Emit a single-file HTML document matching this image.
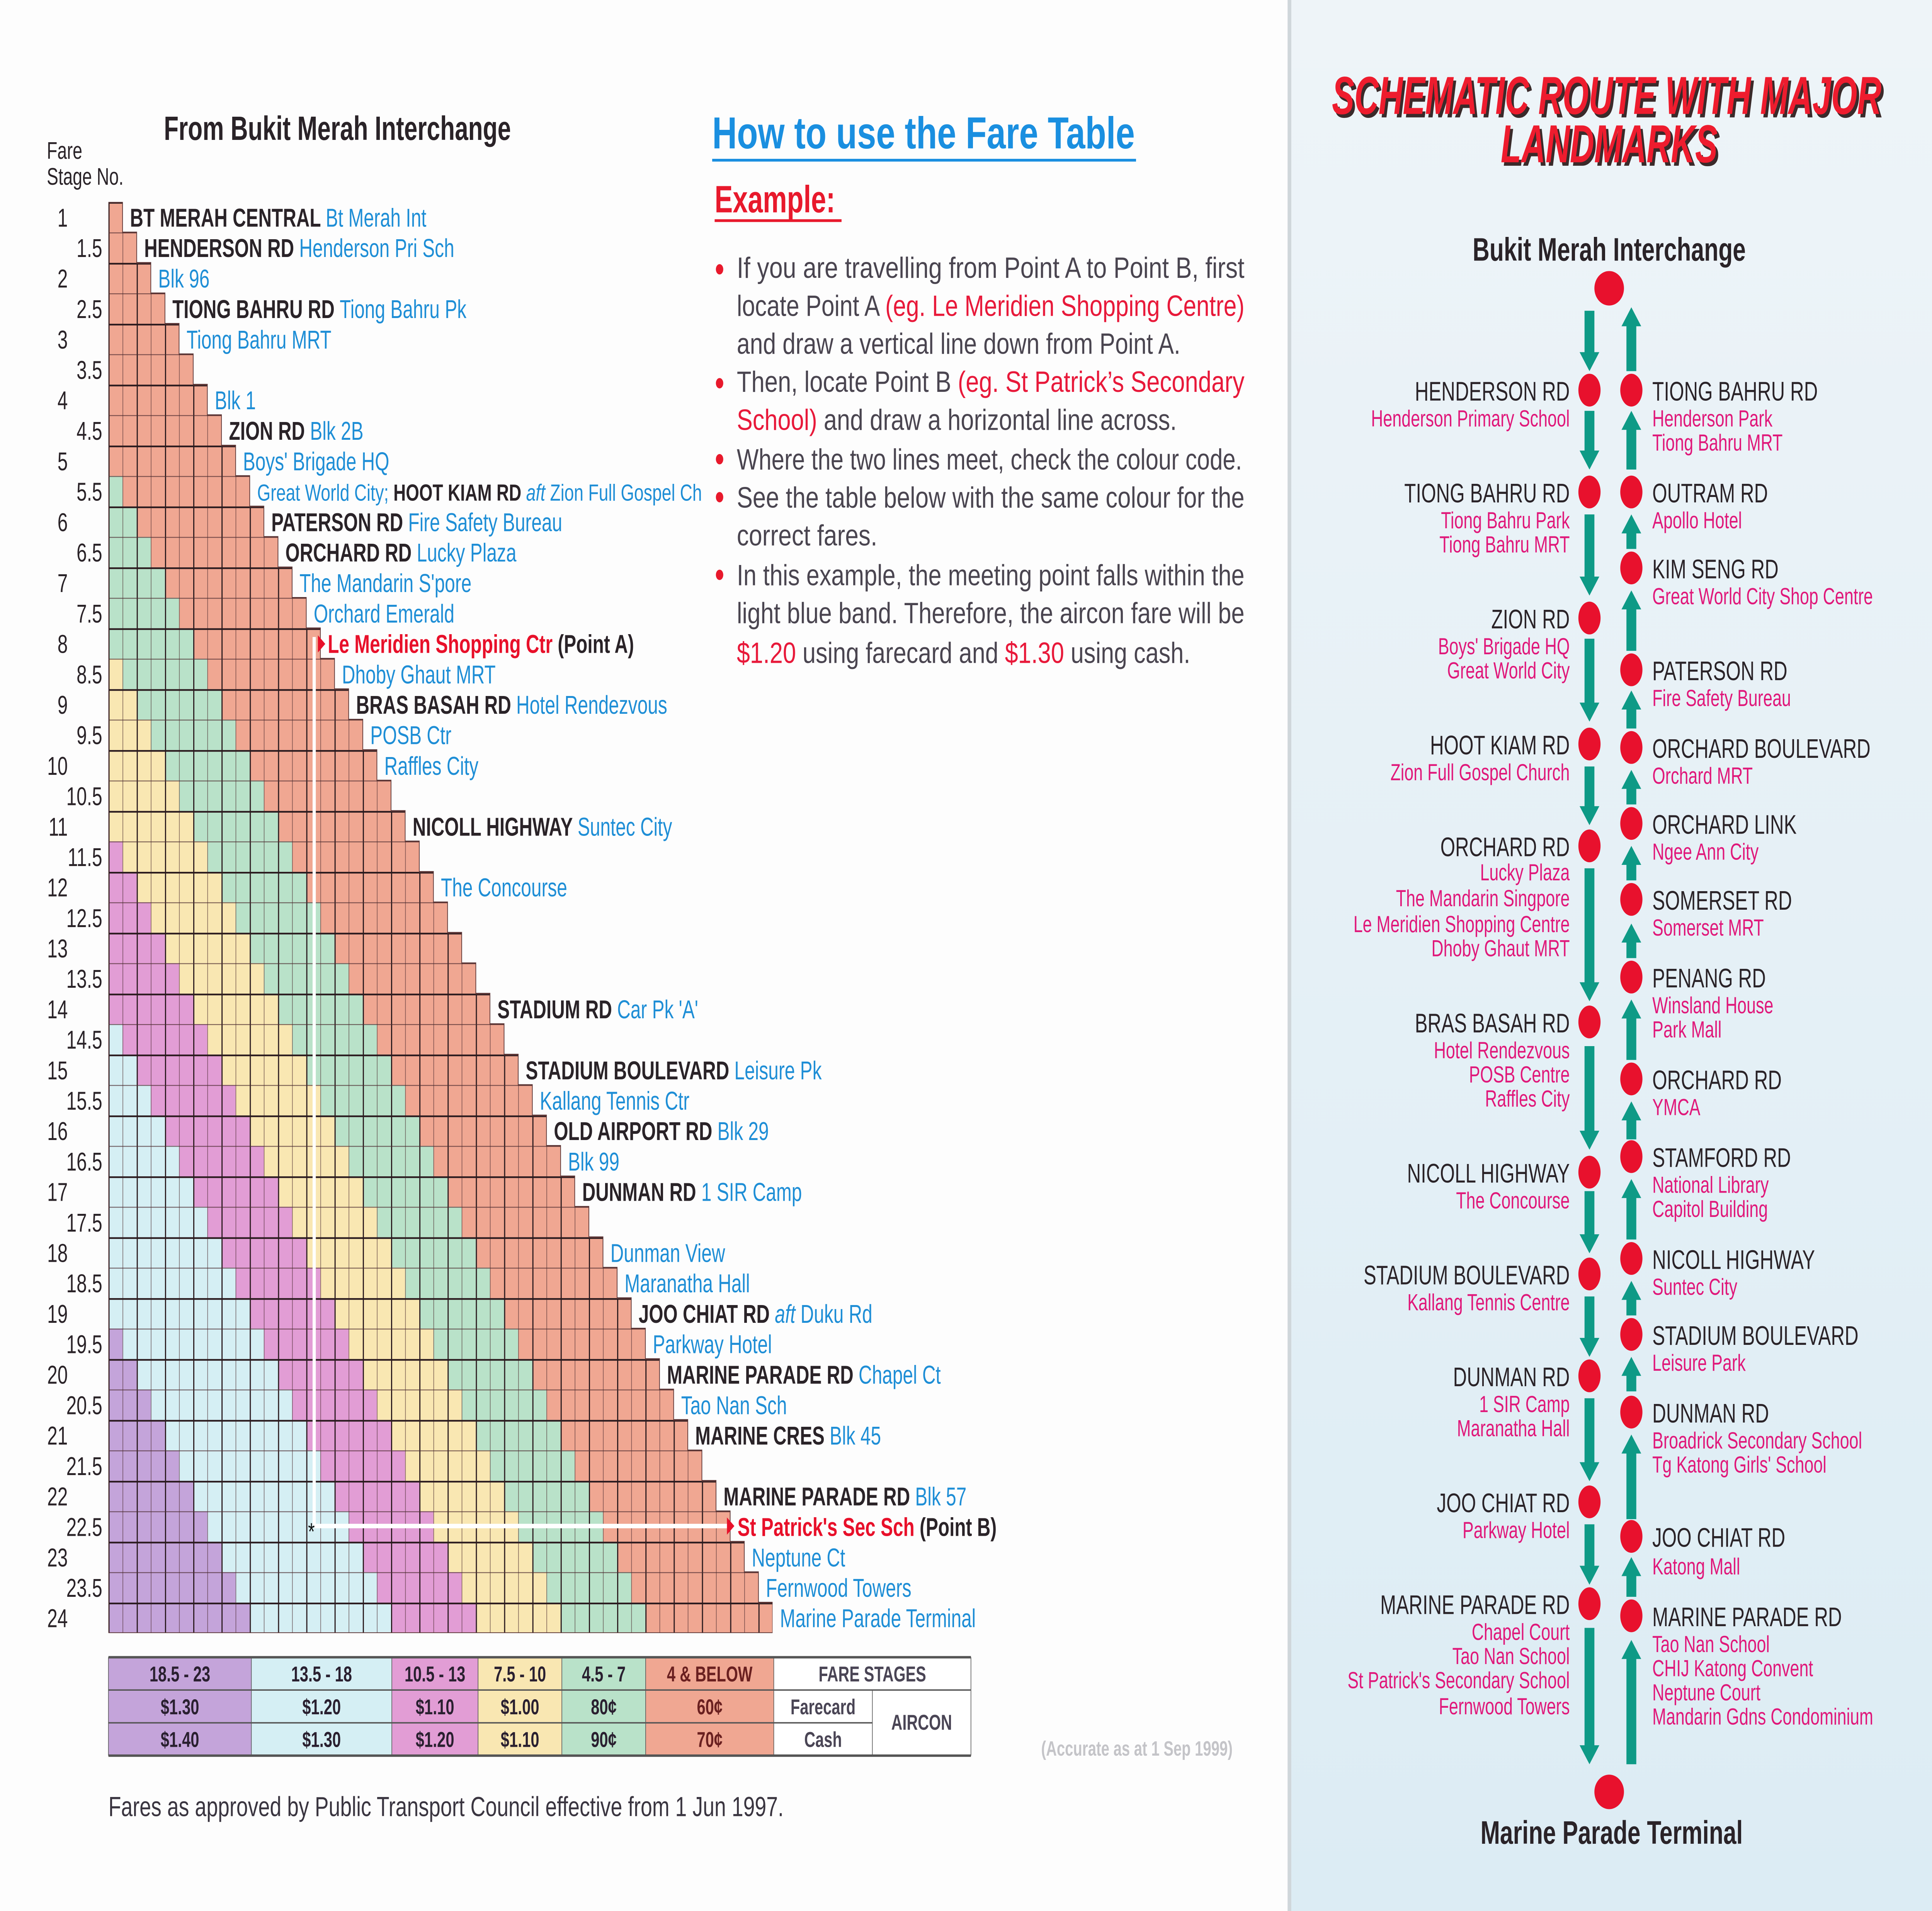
<!DOCTYPE html>
<html><head><meta charset="utf-8">
<style>
html,body{margin:0;padding:0;background:#fff;width:100%;height:100%;overflow:hidden;}
svg.main{display:block;position:fixed;left:0;top:0;width:100vw;height:100vh;}
</style></head>
<body>
<svg class="main" xmlns="http://www.w3.org/2000/svg" viewBox="0 0 1568 1107" preserveAspectRatio="none" font-family="'Liberation Sans', sans-serif">
<defs>
<linearGradient id="bg" x1="0" y1="0" x2="0" y2="1">
<stop offset="0" stop-color="#eef4f8"/><stop offset="1" stop-color="#dcecf4"/>
</linearGradient>
<pattern id="gl" patternUnits="userSpaceOnUse" width="2" height="2">
<rect x="0" y="0" width="0.08" height="2" fill="#2a1a1e"/>
<rect x="1" y="0" width="0.04" height="2" fill="#4a2a2e" fill-opacity="0.75"/>
<rect x="0" y="0" width="2" height="0.055" fill="#2a1a1e"/>
<rect x="0" y="1" width="2" height="0.03" fill="#4a2a2e" fill-opacity="0.7"/>
</pattern>
<path id="stair" d="M0,0 h1v1h1v1h1v1h1v1h1v1h1v1h1v1h1v1h1v1h1v1 h1v1h1v1h1v1h1v1h1v1h1v1h1v1h1v1h1v1h1v1 h1v1h1v1h1v1h1v1h1v1h1v1h1v1h1v1h1v1h1v1 h1v1h1v1h1v1h1v1h1v1h1v1h1v1h1v1h1v1h1v1 h1v1h1v1h1v1h1v1h1v1h1v1 h1V47H0Z"/>
</defs>
<rect x="0" y="0" width="1568" height="1107" fill="#fdfdfd"/>
<rect x="1048" y="0" width="520" height="1107" fill="url(#bg)"/>
<rect x="1045" y="0" width="3" height="1107" fill="#cfd6da"/>

<text x="133" y="81" font-size="19.5" font-weight="bold" fill="#2a2328">From Bukit Merah Interchange</text>
<text x="38" y="92" font-size="14" fill="#2a2328">Fare</text>
<text x="38" y="107" font-size="14" fill="#2a2328">Stage No.</text>

<svg x="88" y="117" width="539" height="829" viewBox="0 0 47 47" preserveAspectRatio="none">
<use href="#stair" fill="#f0a792"/>
<path fill="#b9e2c9" d="M0,9 h1v1h1v1h1v1h1v1h1v1h1v1h1v1h1v1h1v1h1v1 h1v1h1v1h1v1h1v1h1v1h1v1h1v1h1v1h1v1h1v1 h1v1h1v1h1v1h1v1h1v1h1v1h1v1h1v1h1v1h1v1 h1v1h1v1h1v1h1v1h1v1h1v1h1v1 h1V47H0Z"/>
<path fill="#f9e7b2" d="M0,15 h1v1h1v1h1v1h1v1h1v1h1v1h1v1h1v1h1v1h1v1 h1v1h1v1h1v1h1v1h1v1h1v1h1v1h1v1h1v1h1v1 h1v1h1v1h1v1h1v1h1v1h1v1h1v1h1v1h1v1h1v1 h1v1 h1V47H0Z"/>
<path fill="#e29dd5" d="M0,21 h1v1h1v1h1v1h1v1h1v1h1v1h1v1h1v1h1v1h1v1 h1v1h1v1h1v1h1v1h1v1h1v1h1v1h1v1h1v1h1v1 h1v1h1v1h1v1h1v1h1v1 h1V47H0Z"/>
<path fill="#d5eff4" d="M0,27 h1v1h1v1h1v1h1v1h1v1h1v1h1v1h1v1h1v1h1v1 h1v1h1v1h1v1h1v1h1v1h1v1h1v1h1v1h1v1 h1V47H0Z"/>
<path fill="#c4a4da" d="M0,37 h1v1h1v1h1v1h1v1h1v1h1v1h1v1h1v1h1v1 h1V47H0Z"/>
<use href="#stair" fill="url(#gl)"/>
<use href="#stair" fill="none" stroke="#5a3434" stroke-width="0.05"/>
</svg>

<line x1="255" y1="369" x2="255" y2="884" stroke="#fff" stroke-width="2.6"/>
<line x1="255" y1="884" x2="591" y2="884" stroke="#fff" stroke-width="2.6"/>
<text x="250" y="892" font-size="14" fill="#111">*</text>
<polygon points="258,368 264,373 258,378" fill="#e8102a"/>
<polygon points="590,879 596,884 590,889" fill="#e8102a"/>

<g font-size="15" fill="#2a2328" text-anchor="end">
<text x="55" y="131.3">1</text><text x="83" y="148.9">1.5</text>
<text x="55" y="166.6">2</text><text x="83" y="184.2">2.5</text>
<text x="55" y="201.9">3</text><text x="83" y="219.5">3.5</text>
<text x="55" y="237.1">4</text><text x="83" y="254.8">4.5</text>
<text x="55" y="272.4">5</text><text x="83" y="290.0">5.5</text>
<text x="55" y="307.7">6</text><text x="83" y="325.3">6.5</text>
<text x="55" y="343.0">7</text><text x="83" y="360.6">7.5</text>
<text x="55" y="378.2">8</text><text x="83" y="395.9">8.5</text>
<text x="55" y="413.5">9</text><text x="83" y="431.1">9.5</text>
<text x="55" y="448.8">10</text><text x="83" y="466.4">10.5</text>
<text x="55" y="484.1">11</text><text x="83" y="501.7">11.5</text>
<text x="55" y="519.3">12</text><text x="83" y="537.0">12.5</text>
<text x="55" y="554.6">13</text><text x="83" y="572.2">13.5</text>
<text x="55" y="589.9">14</text><text x="83" y="607.5">14.5</text>
<text x="55" y="625.2">15</text><text x="83" y="642.8">15.5</text>
<text x="55" y="660.4">16</text><text x="83" y="678.1">16.5</text>
<text x="55" y="695.7">17</text><text x="83" y="713.4">17.5</text>
<text x="55" y="731.0">18</text><text x="83" y="748.6">18.5</text>
<text x="55" y="766.3">19</text><text x="83" y="783.9">19.5</text>
<text x="55" y="801.5">20</text><text x="83" y="819.2">20.5</text>
<text x="55" y="836.8">21</text><text x="83" y="854.5">21.5</text>
<text x="55" y="872.1">22</text><text x="83" y="889.7">22.5</text>
<text x="55" y="907.4">23</text><text x="83" y="925.0">23.5</text>
<text x="55" y="942.6">24</text>
</g>

<g font-size="15" fill="#1e8ed6">
<text x="105.5" y="131.3"><tspan font-weight="bold" fill="#2a2328">BT MERAH CENTRAL </tspan>Bt Merah Int</text>
<text x="117" y="148.9"><tspan font-weight="bold" fill="#2a2328">HENDERSON RD </tspan>Henderson Pri Sch</text>
<text x="128.4" y="166.6">Blk 96</text>
<text x="139.9" y="184.2"><tspan font-weight="bold" fill="#2a2328">TIONG BAHRU RD </tspan>Tiong Bahru Pk</text>
<text x="151.4" y="201.9">Tiong Bahru MRT</text>
<text x="174.3" y="237.1">Blk 1</text>
<text x="185.8" y="254.8"><tspan font-weight="bold" fill="#2a2328">ZION RD </tspan>Blk 2B</text>
<text x="197.2" y="272.4">Boys' Brigade HQ</text>
<text x="208.7" y="290.0" font-size="13.5" textLength="361" lengthAdjust="spacingAndGlyphs">Great World City;  <tspan font-weight="bold" fill="#2a2328">HOOT KIAM RD </tspan><tspan font-style="italic">aft </tspan>Zion Full Gospel Ch</text>
<text x="220.2" y="307.7"><tspan font-weight="bold" fill="#2a2328">PATERSON RD </tspan>Fire Safety Bureau</text>
<text x="231.6" y="325.3"><tspan font-weight="bold" fill="#2a2328">ORCHARD RD </tspan>Lucky Plaza</text>
<text x="243.1" y="343.0">The Mandarin S'pore</text>
<text x="254.6" y="360.6">Orchard Emerald</text>
<text x="266" y="378.2" font-weight="bold" fill="#e8102a">Le Meridien Shopping Ctr <tspan fill="#2a2328">(Point A)</tspan></text>
<text x="277.5" y="395.9">Dhoby Ghaut MRT</text>
<text x="289" y="413.5"><tspan font-weight="bold" fill="#2a2328">BRAS BASAH RD </tspan>Hotel Rendezvous</text>
<text x="300.5" y="431.1">POSB Ctr</text>
<text x="311.9" y="448.8">Raffles City</text>
<text x="334.9" y="484.1"><tspan font-weight="bold" fill="#2a2328">NICOLL HIGHWAY </tspan>Suntec City</text>
<text x="357.8" y="519.3">The Concourse</text>
<text x="403.7" y="589.9"><tspan font-weight="bold" fill="#2a2328">STADIUM RD </tspan>Car Pk 'A'</text>
<text x="426.6" y="625.2"><tspan font-weight="bold" fill="#2a2328">STADIUM BOULEVARD </tspan>Leisure Pk</text>
<text x="438.1" y="642.8">Kallang Tennis Ctr</text>
<text x="449.5" y="660.4"><tspan font-weight="bold" fill="#2a2328">OLD AIRPORT RD </tspan>Blk 29</text>
<text x="461" y="678.1">Blk 99</text>
<text x="472.5" y="695.7"><tspan font-weight="bold" fill="#2a2328">DUNMAN RD </tspan>1 SIR Camp</text>
<text x="495.4" y="731.0">Dunman View</text>
<text x="506.9" y="748.6">Maranatha Hall</text>
<text x="518.3" y="766.3"><tspan font-weight="bold" fill="#2a2328">JOO CHIAT RD </tspan><tspan font-style="italic">aft </tspan>Duku Rd</text>
<text x="529.8" y="783.9">Parkway Hotel</text>
<text x="541.3" y="801.5"><tspan font-weight="bold" fill="#2a2328">MARINE PARADE RD </tspan>Chapel Ct</text>
<text x="552.8" y="819.2">Tao Nan Sch</text>
<text x="564.2" y="836.8"><tspan font-weight="bold" fill="#2a2328">MARINE CRES </tspan>Blk 45</text>
<text x="587.2" y="872.1"><tspan font-weight="bold" fill="#2a2328">MARINE PARADE RD </tspan>Blk 57</text>
<text x="598.6" y="889.7" font-weight="bold" fill="#e8102a">St Patrick's Sec Sch <tspan fill="#2a2328">(Point B)</tspan></text>
<text x="610.1" y="907.4">Neptune Ct</text>
<text x="621.6" y="925.0">Fernwood Towers</text>
<text x="633" y="942.6">Marine Parade Terminal</text>
</g>

<text x="578" y="86" font-size="26" font-weight="bold" fill="#1a8fe0" textLength="343" lengthAdjust="spacingAndGlyphs">How to use the Fare Table</text>
<rect x="578" y="92" width="344" height="1.6" fill="#1a8fe0"/>
<text x="580" y="123" font-size="22" font-weight="bold" fill="#e8192c">Example:</text>
<rect x="580" y="127" width="103" height="1.6" fill="#e8192c"/>
<g fill="#e8192c">
<circle cx="584" cy="156" r="3"/><circle cx="584" cy="222" r="3"/><circle cx="584" cy="266" r="3"/><circle cx="584" cy="288" r="3"/><circle cx="584" cy="333" r="3"/>
</g>
<g font-size="17" fill="#4a4550">
<text x="598" y="161" textLength="412" lengthAdjust="spacingAndGlyphs">If you are travelling from Point A to Point B, first</text>
<text x="598" y="183" textLength="412" lengthAdjust="spacingAndGlyphs">locate Point A <tspan fill="#e8193a">(eg. Le Meridien Shopping Centre)</tspan></text>
<text x="598" y="205" textLength="360" lengthAdjust="spacingAndGlyphs">and draw a vertical line down from Point A.</text>
<text x="598" y="227" textLength="412" lengthAdjust="spacingAndGlyphs">Then, locate Point B <tspan fill="#e8193a">(eg. St Patrick’s Secondary</tspan></text>
<text x="598" y="249" textLength="357" lengthAdjust="spacingAndGlyphs"><tspan fill="#e8193a">School)</tspan> and draw a horizontal line across.</text>
<text x="598" y="272" textLength="410" lengthAdjust="spacingAndGlyphs">Where the two lines meet, check the colour code.</text>
<text x="598" y="294" textLength="412" lengthAdjust="spacingAndGlyphs">See the table below with the same colour for the</text>
<text x="598" y="316" textLength="114" lengthAdjust="spacingAndGlyphs">correct fares.</text>
<text x="598" y="339" textLength="412" lengthAdjust="spacingAndGlyphs">In this example, the meeting point falls within the</text>
<text x="598" y="361" textLength="412" lengthAdjust="spacingAndGlyphs">light blue band.  Therefore, the aircon fare will be</text>
<text x="598" y="384" textLength="368" lengthAdjust="spacingAndGlyphs"><tspan fill="#e8193a">$1.20</tspan> using farecard and <tspan fill="#e8193a">$1.30</tspan> using cash.</text>
</g>

<rect x="88" y="960" width="116" height="57" fill="#c4a4da"/>
<rect x="204" y="960" width="114" height="57" fill="#d5eff4"/>
<rect x="318" y="960" width="70" height="57" fill="#e29dd5"/>
<rect x="388" y="960" width="68" height="57" fill="#f9e7b2"/>
<rect x="456" y="960" width="68" height="57" fill="#b9e2c9"/>
<rect x="524" y="960" width="104" height="57" fill="#f0a792"/>
<rect x="628" y="960" width="160" height="57" fill="#fff"/>
<g stroke="#555" fill="none">
<line x1="88" y1="960" x2="788" y2="960" stroke-width="1.4"/>
<line x1="88" y1="1017" x2="788" y2="1017" stroke-width="1.4"/>
<line x1="88" y1="979" x2="788" y2="979" stroke-width="0.8"/>
<line x1="88" y1="998" x2="708" y2="998" stroke-width="0.8"/>
<line x1="88" y1="960" x2="88" y2="1017" stroke-width="0.5"/>
<line x1="204" y1="960" x2="204" y2="1017" stroke-width="0.5"/>
<line x1="318" y1="960" x2="318" y2="1017" stroke-width="0.5"/>
<line x1="388" y1="960" x2="388" y2="1017" stroke-width="0.5"/>
<line x1="456" y1="960" x2="456" y2="1017" stroke-width="0.5"/>
<line x1="524" y1="960" x2="524" y2="1017" stroke-width="0.5"/>
<line x1="628" y1="960" x2="628" y2="1017" stroke-width="0.5"/>
<line x1="708" y1="979" x2="708" y2="1017" stroke-width="0.5"/>
<line x1="788" y1="960" x2="788" y2="1017" stroke-width="0.5"/>
</g>
<g font-size="12.5" font-weight="bold" fill="#2a2030" text-anchor="middle">
<text x="146" y="974">18.5 - 23</text><text x="261" y="974">13.5 - 18</text><text x="353" y="974">10.5 - 13</text><text x="422" y="974">7.5 - 10</text><text x="490" y="974">4.5 - 7</text><text x="576" y="974" fill="#6a2020">4 &amp; BELOW</text>
<text x="708" y="974" fill="#4a4555">FARE STAGES</text>
<text x="146" y="993">$1.30</text><text x="261" y="993">$1.20</text><text x="353" y="993">$1.10</text><text x="422" y="993">$1.00</text><text x="490" y="993">80¢</text><text x="576" y="993" fill="#6a2020">60¢</text>
<text x="668" y="993" fill="#4a4555">Farecard</text>
<text x="146" y="1012">$1.40</text><text x="261" y="1012">$1.30</text><text x="353" y="1012">$1.20</text><text x="422" y="1012">$1.10</text><text x="490" y="1012">90¢</text><text x="576" y="1012" fill="#6a2020">70¢</text>
<text x="668" y="1012" fill="#4a4555">Cash</text>
<text x="748" y="1002" fill="#4a4555">AIRCON</text>
</g>
<text x="845" y="1017" font-size="12" fill="#c4c4c8" font-weight="bold">(Accurate as at 1 Sep 1999)</text>
<text x="88" y="1052" font-size="16" fill="#3a3540" textLength="548" lengthAdjust="spacingAndGlyphs">Fares as approved by Public Transport Council effective from 1 Jun 1997.</text>

<text x="1083" y="68" font-size="31" font-weight="900" font-style="italic" fill="#3a2a2a" textLength="446" lengthAdjust="spacingAndGlyphs">SCHEMATIC ROUTE WITH MAJOR</text>
<text x="1081" y="66" font-size="31" font-weight="900" font-style="italic" fill="#ee1c2e" textLength="446" lengthAdjust="spacingAndGlyphs">SCHEMATIC ROUTE WITH MAJOR</text>
<text x="1220" y="96" font-size="31" font-weight="900" font-style="italic" fill="#3a2a2a" textLength="176" lengthAdjust="spacingAndGlyphs">LANDMARKS</text>
<text x="1218" y="94" font-size="31" font-weight="900" font-style="italic" fill="#ee1c2e" textLength="176" lengthAdjust="spacingAndGlyphs">LANDMARKS</text>

<text x="1306" y="151" font-size="19" font-weight="bold" fill="#2a2328" text-anchor="middle">Bukit Merah Interchange</text>
<text x="1308" y="1068" font-size="19" font-weight="bold" fill="#2a2328" text-anchor="middle">Marine Parade Terminal</text>
<ellipse cx="1306" cy="167" rx="12" ry="10" fill="#e8112d"/>
<ellipse cx="1306" cy="1038" rx="12" ry="10" fill="#e8112d"/>

<g fill="#0e9a86">
<path d="M1286,180h8V204h4L1290,215L1282,204h4Z"/>
<path d="M1286,238h8V261h4L1290,272L1282,261h4Z"/>
<path d="M1286,298h8V334h4L1290,345L1282,334h4Z"/>
<path d="M1286,370h8V407h4L1290,418L1282,407h4Z"/>
<path d="M1286,444h8V467h4L1290,478L1282,467h4Z"/>
<path d="M1286,503h8V569h4L1290,580L1282,569h4Z"/>
<path d="M1286,606h8V655h4L1290,666L1282,655h4Z"/>
<path d="M1286,690h8V715h4L1290,726L1282,715h4Z"/>
<path d="M1286,751h8V775h4L1290,786L1282,775h4Z"/>
<path d="M1286,810h8V847h4L1290,858L1282,847h4Z"/>
<path d="M1286,883h8V907h4L1290,918L1282,907h4Z"/>
<path d="M1286,943h8V1011h4L1290,1022L1282,1011h4Z"/>
<path d="M1320,215V189h-4L1324,178L1332,189h-4V215Z"/>
<path d="M1320,272V249h-4L1324,238L1332,249h-4V272Z"/>
<path d="M1320,318V309h-4L1324,298L1332,309h-4V318Z"/>
<path d="M1320,377V353h-4L1324,342L1332,353h-4V377Z"/>
<path d="M1320,422V411h-4L1324,400L1332,411h-4V422Z"/>
<path d="M1320,466V457h-4L1324,446L1332,457h-4V466Z"/>
<path d="M1320,510V501h-4L1324,490L1332,501h-4V510Z"/>
<path d="M1320,555V546h-4L1324,535L1332,546h-4V555Z"/>
<path d="M1320,614V590h-4L1324,579L1332,590h-4V614Z"/>
<path d="M1320,660V649h-4L1324,638L1332,649h-4V660Z"/>
<path d="M1320,718V694h-4L1324,683L1332,694h-4V718Z"/>
<path d="M1320,762V753h-4L1324,742L1332,753h-4V762Z"/>
<path d="M1320,806V797h-4L1324,786L1332,797h-4V806Z"/>
<path d="M1320,880V842h-4L1324,831L1332,842h-4V880Z"/>
<path d="M1320,925V913h-4L1324,902L1332,913h-4V925Z"/>
<path d="M1320,1022V961h-4L1324,950L1332,961h-4V1022Z"/>
</g>

<g fill="#e8112d">
<ellipse cx="1290" cy="226" rx="9" ry="9.5"/><ellipse cx="1290" cy="285" rx="9" ry="9.5"/><ellipse cx="1290" cy="358" rx="9" ry="9.5"/><ellipse cx="1290" cy="431" rx="9" ry="9.5"/><ellipse cx="1290" cy="490" rx="9" ry="9.5"/><ellipse cx="1290" cy="592" rx="9" ry="9.5"/><ellipse cx="1290" cy="679" rx="9" ry="9.5"/><ellipse cx="1290" cy="738" rx="9" ry="9.5"/><ellipse cx="1290" cy="797" rx="9" ry="9.5"/><ellipse cx="1290" cy="870" rx="9" ry="9.5"/><ellipse cx="1290" cy="929" rx="9" ry="9.5"/>
<ellipse cx="1324" cy="226" rx="9" ry="9.5"/><ellipse cx="1324" cy="285" rx="9" ry="9.5"/><ellipse cx="1324" cy="329" rx="9" ry="9.5"/><ellipse cx="1324" cy="388" rx="9" ry="9.5"/><ellipse cx="1324" cy="433" rx="9" ry="9.5"/><ellipse cx="1324" cy="477" rx="9" ry="9.5"/><ellipse cx="1324" cy="521" rx="9" ry="9.5"/><ellipse cx="1324" cy="566" rx="9" ry="9.5"/><ellipse cx="1324" cy="625" rx="9" ry="9.5"/><ellipse cx="1324" cy="670" rx="9" ry="9.5"/><ellipse cx="1324" cy="729" rx="9" ry="9.5"/><ellipse cx="1324" cy="773" rx="9" ry="9.5"/><ellipse cx="1324" cy="818" rx="9" ry="9.5"/><ellipse cx="1324" cy="890" rx="9" ry="9.5"/><ellipse cx="1324" cy="936" rx="9" ry="9.5"/>
</g>

<g text-anchor="end">
<g font-size="15.5" fill="#2a2328">
<text x="1274" y="232">HENDERSON RD</text>
<text x="1274" y="291">TIONG BAHRU RD</text>
<text x="1274" y="364">ZION RD</text>
<text x="1274" y="437">HOOT KIAM RD</text>
<text x="1274" y="496">ORCHARD RD</text>
<text x="1274" y="598">BRAS BASAH RD</text>
<text x="1274" y="685">NICOLL HIGHWAY</text>
<text x="1274" y="744">STADIUM BOULEVARD</text>
<text x="1274" y="803">DUNMAN RD</text>
<text x="1274" y="876">JOO CHIAT RD</text>
<text x="1274" y="935">MARINE PARADE RD</text>
</g>
<g font-size="13.5" fill="#e0187a">
<text x="1274" y="247">Henderson Primary School</text>
<text x="1274" y="306">Tiong Bahru Park</text><text x="1274" y="320">Tiong Bahru MRT</text>
<text x="1274" y="379">Boys' Brigade HQ</text><text x="1274" y="393">Great World City</text>
<text x="1274" y="452">Zion Full Gospel Church</text>
<text x="1274" y="510">Lucky Plaza</text><text x="1274" y="525">The Mandarin Singpore</text><text x="1274" y="540">Le Meridien Shopping Centre</text><text x="1274" y="554">Dhoby Ghaut MRT</text>
<text x="1274" y="613">Hotel Rendezvous</text><text x="1274" y="627">POSB Centre</text><text x="1274" y="641">Raffles City</text>
<text x="1274" y="700">The Concourse</text>
<text x="1274" y="759">Kallang Tennis Centre</text>
<text x="1274" y="818">1 SIR Camp</text><text x="1274" y="832">Maranatha Hall</text>
<text x="1274" y="891">Parkway Hotel</text>
<text x="1274" y="950">Chapel Court</text><text x="1274" y="964">Tao Nan School</text><text x="1274" y="978">St Patrick's Secondary School</text><text x="1274" y="993">Fernwood Towers</text>
</g>
</g>

<g font-size="15.5" fill="#2a2328">
<text x="1341" y="232">TIONG BAHRU RD</text>
<text x="1341" y="291">OUTRAM RD</text>
<text x="1341" y="335">KIM SENG RD</text>
<text x="1341" y="394">PATERSON RD</text>
<text x="1341" y="439">ORCHARD BOULEVARD</text>
<text x="1341" y="483">ORCHARD LINK</text>
<text x="1341" y="527">SOMERSET RD</text>
<text x="1341" y="572">PENANG RD</text>
<text x="1341" y="631">ORCHARD RD</text>
<text x="1341" y="676">STAMFORD RD</text>
<text x="1341" y="735">NICOLL HIGHWAY</text>
<text x="1341" y="779">STADIUM BOULEVARD</text>
<text x="1341" y="824">DUNMAN RD</text>
<text x="1341" y="896">JOO CHIAT RD</text>
<text x="1341" y="942">MARINE PARADE RD</text>
</g>
<g font-size="13.5" fill="#e0187a">
<text x="1341" y="247">Henderson Park</text><text x="1341" y="261">Tiong Bahru MRT</text>
<text x="1341" y="306">Apollo Hotel</text>
<text x="1341" y="350">Great World City Shop Centre</text>
<text x="1341" y="409">Fire Safety Bureau</text>
<text x="1341" y="454">Orchard MRT</text>
<text x="1341" y="498">Ngee Ann City</text>
<text x="1341" y="542">Somerset MRT</text>
<text x="1341" y="587">Winsland House</text><text x="1341" y="601">Park Mall</text>
<text x="1341" y="646">YMCA</text>
<text x="1341" y="691">National Library</text><text x="1341" y="705">Capitol Building</text>
<text x="1341" y="750">Suntec City</text>
<text x="1341" y="794">Leisure Park</text>
<text x="1341" y="839">Broadrick Secondary School</text><text x="1341" y="853">Tg Katong Girls' School</text>
<text x="1341" y="912">Katong Mall</text>
<text x="1341" y="957">Tao Nan School</text><text x="1341" y="971">CHIJ Katong Convent</text><text x="1341" y="985">Neptune Court</text><text x="1341" y="999">Mandarin Gdns Condominium</text>
</g>
</svg>
</body></html>
